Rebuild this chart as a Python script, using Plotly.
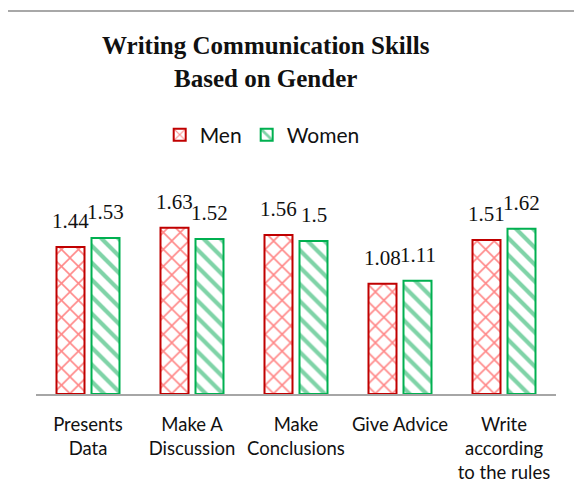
import plotly.graph_objects as go

categories = ["Presents<br>Data", "Make A<br>Discussion", "Make<br>Conclusions", "Give Advice", "Write<br>according<br>to the rules"]
men = [1.44, 1.63, 1.56, 1.08, 1.51]
women = [1.53, 1.52, 1.50, 1.11, 1.62]

fig = go.Figure()
fig.add_trace(go.Bar(
    name="Men", x=categories, y=men,
    marker=dict(color="white", line=dict(color="#C00000", width=2),
                pattern=dict(shape="x", fgcolor="#FF1010", bgcolor="white", size=12, solidity=0.25)),
))
fig.add_trace(go.Bar(
    name="Women", x=categories, y=women,
    marker=dict(color="white", line=dict(color="#00B050", width=2),
                pattern=dict(shape="\\", fgcolor="#00A84F", bgcolor="white", size=12, solidity=0.35)),
))

annotations = []
for vals, shift in ((men, -17.5), (women, 17.5)):
    for c, v in zip(categories, vals):
        annotations.append(dict(
            x=c, y=v, xref="x", yref="y", text=f"{v:g}", showarrow=False,
            xanchor="center", yanchor="bottom", xshift=shift, yshift=12,
            font=dict(family="Liberation Serif, serif", size=21, color="#111")))

annotations.append(dict(
    text="<b>Writing Communication Skills<br>Based on Gender</b>",
    x=(258 - 28) / 520, y=(386 - 54) / 204, xref="paper", yref="paper",
    xanchor="center", yanchor="middle", showarrow=False,
    font=dict(family="Liberation Serif, serif", size=25, color="#111")))

fig.update_layout(
    width=574, height=491,
    margin=dict(l=28, r=26, t=182, b=105),
    paper_bgcolor="white", plot_bgcolor="white",
    barmode="group", bargap=0.327, bargroupgap=0.2,
    showlegend=True,
    legend=dict(orientation="h", x=0.435, xanchor="center", y=(386 - 127) / 204, yanchor="middle",
                yref="paper", font=dict(family="Lato, sans-serif", size=21, color="#111"),
                itemwidth=30, bgcolor="rgba(0,0,0,0)"),
    xaxis=dict(showline=True, linecolor="#A6A6A6", linewidth=1.5, ticks="", showgrid=False,
               ticklabelstandoff=13,
               tickfont=dict(family="Lato, sans-serif", size=18.5, color="#111")),
    yaxis=dict(range=[0, 2], visible=False, showgrid=False),
    annotations=annotations,
    shapes=[dict(type="rect", xref="paper", yref="paper",
                 x0=(-2 - 28) / 520, x1=1.2, y0=-0.7, y1=(386 - 3) / 204,
                 line=dict(color="#8C8C8C", width=1.5), fillcolor="rgba(0,0,0,0)", layer="below")],
    font=dict(family="Lato, sans-serif"),
)

fig.write_html("out.html")
